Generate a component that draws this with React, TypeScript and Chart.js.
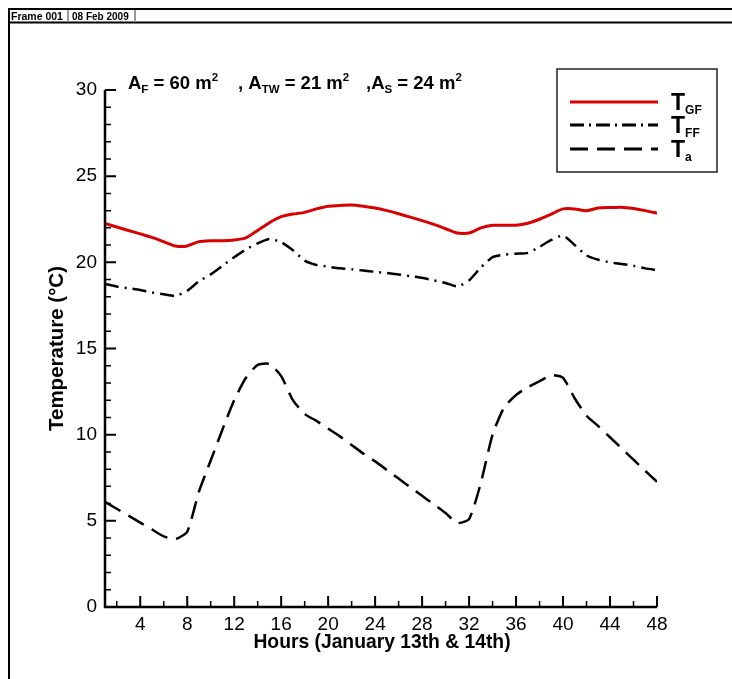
import React, { useEffect, useRef } from 'react';
import { Chart, registerables } from 'chart.js';

Chart.register(...registerables);

// ---- data ----
const hours = [1, 2, 3, 4, 5, 6, 7, 8, 9, 10, 11, 12, 13, 14, 15, 16, 17, 18, 19, 20, 21, 22, 23, 24,
  25, 26, 27, 28, 29, 30, 31, 32, 33, 34, 35, 36, 37, 38, 39, 40, 41, 42, 43, 44, 45, 46, 47, 48];

const tGF = [22.25, 22.05, 21.85, 21.65, 21.45, 21.2, 20.95, 20.95, 21.2, 21.25, 21.25, 21.3, 21.42, 21.85,
  22.3, 22.65, 22.8, 22.9, 23.1, 23.25, 23.3, 23.32, 23.25, 23.15, 23.0, 22.82, 22.62, 22.42, 22.2, 21.95,
  21.7, 21.7, 22.0, 22.15, 22.15, 22.15, 22.27, 22.5, 22.8, 23.1, 23.1, 23.0, 23.15, 23.18, 23.2, 23.12, 23.0, 22.85];

const tFF = [18.75, 18.6, 18.5, 18.4, 18.25, 18.15, 18.05, 18.35, 18.9, 19.3, 19.8, 20.3, 20.75, 21.1,
  21.35, 21.17, 20.7, 20.1, 19.85, 19.75, 19.65, 19.6, 19.52, 19.45, 19.38, 19.3, 19.2, 19.1, 18.95, 18.8,
  18.6, 18.95, 19.7, 20.3, 20.45, 20.5, 20.55, 20.9, 21.3, 21.55, 21.0, 20.4, 20.15, 20.0, 19.9, 19.8, 19.65, 19.55];

const tA = [6.1, 5.7, 5.3, 4.9, 4.5, 4.1, 3.94, 4.37, 6.7, 8.5, 10.3, 12.0, 13.3, 14.05, 14.1, 13.4, 12.0,
  11.2, 10.8, 10.35, 9.9, 9.4, 8.9, 8.45, 7.95, 7.45, 6.95, 6.45, 5.95, 5.45, 4.87, 5.1, 7.2, 10.0, 11.6,
  12.3, 12.75, 13.1, 13.45, 13.3, 12.1, 11.1, 10.5, 9.85, 9.2, 8.55, 7.9, 7.27];

const xTicks = [4, 8, 12, 16, 20, 24, 28, 32, 36, 40, 44, 48];
const xMinorTicks = [2, 6, 10, 14, 18, 22, 26, 30, 34, 38, 42, 46];
const yTicks = [0, 5, 10, 15, 20, 25, 30];
const yMinorTicks = [1, 2, 3, 4, 6, 7, 8, 9, 11, 12, 13, 14, 16, 17, 18, 19, 21, 22, 23, 24, 26, 27, 28, 29];

const seriesNames = [['T', 'GF'], ['T', 'FF'], ['T', 'a']];
const xTitle = 'Hours (January 13th & 14th)';
const yTitle = 'Temperature (°C)';
const frameLabel = 'Frame 001';
const dateLabel = '08 Feb 2009';

const FONT = '"Liberation Sans", Arial, Helvetica, sans-serif';
const RED = '#d80000';

type Part = { t: string; s: number; dy?: number };

function drawRich(ctx: CanvasRenderingContext2D, x: number, y: number, parts: Part[]) {
  let cx = x;
  for (const p of parts) {
    ctx.font = `bold ${p.s}px ${FONT}`;
    ctx.fillText(p.t, cx, y + (p.dy || 0));
    cx += ctx.measureText(p.t).width;
  }
}

const decorPlugin = {
  id: 'decor',
  afterDraw(chart: any) {
    const ctx: CanvasRenderingContext2D = chart.ctx;
    const xs = chart.scales.x;
    const ys = chart.scales.y;
    const { left, right, top, bottom } = chart.chartArea;
    ctx.save();
    ctx.fillStyle = '#000';
    ctx.strokeStyle = '#000';
    ctx.setLineDash([]);

    // page frame & header
    ctx.lineWidth = 2;
    ctx.beginPath();
    ctx.moveTo(8, 9); ctx.lineTo(732, 9);
    ctx.moveTo(8, 22.5); ctx.lineTo(732, 22.5);
    ctx.moveTo(9, 8); ctx.lineTo(9, 679);
    ctx.stroke();
    ctx.strokeStyle = '#999';
    ctx.beginPath();
    ctx.moveTo(68, 10); ctx.lineTo(68, 22);
    ctx.moveTo(135, 10); ctx.lineTo(135, 22);
    ctx.stroke();
    ctx.strokeStyle = '#000';
    ctx.font = `bold 10.5px ${FONT}`;
    ctx.textBaseline = 'alphabetic';
    ctx.textAlign = 'left';
    ctx.fillText(frameLabel, 11, 19.5);
    ctx.font = `bold 10px ${FONT}`;
    ctx.fillText(dateLabel, 72, 19.5);

    // axis lines
    ctx.lineWidth = 2.5;
    ctx.beginPath();
    ctx.moveTo(left, top); ctx.lineTo(left, bottom + 1.2);
    ctx.moveTo(left - 1.2, bottom); ctx.lineTo(right, bottom);
    ctx.stroke();

    // inward ticks
    const tick = (vals: number[], len: number, w: number, axis: 'x' | 'y') => {
      ctx.lineWidth = w;
      ctx.beginPath();
      for (const v of vals) {
        if (axis === 'x') {
          const px = xs.getPixelForValue(v);
          ctx.moveTo(px, bottom); ctx.lineTo(px, bottom - len);
        } else {
          const py = ys.getPixelForValue(v);
          ctx.moveTo(left, py); ctx.lineTo(left + len, py);
        }
      }
      ctx.stroke();
    };
    tick(xTicks, 11, 2, 'x');
    tick(xMinorTicks, 6, 1.5, 'x');
    tick(yTicks, 11, 2, 'y');
    tick(yMinorTicks, 6, 1.5, 'y');

    // axis titles
    ctx.font = `bold 19.3px ${FONT}`;
    ctx.textAlign = 'center';
    ctx.textBaseline = 'alphabetic';
    ctx.fillText(xTitle, (left + right) / 2 + 1, 648);
    ctx.save();
    ctx.font = `bold 20.5px ${FONT}`;
    ctx.translate(63, (top + bottom) / 2);
    ctx.rotate(-Math.PI / 2);
    ctx.fillText(yTitle, 0, 0);
    ctx.restore();

    // annotation
    ctx.textAlign = 'left';
    drawRich(ctx, 128, 89, [
      { t: 'A', s: 18.5 }, { t: 'F', s: 11.5, dy: 4 }, { t: ' = 60 m', s: 18.5 }, { t: '2', s: 11.5, dy: -8 },
    ]);
    drawRich(ctx, 238, 89, [
      { t: ', A', s: 18.5 }, { t: 'TW', s: 11.5, dy: 4 }, { t: ' = 21 m', s: 18.5 }, { t: '2', s: 11.5, dy: -8 },
    ]);
    drawRich(ctx, 366, 89, [
      { t: ',A', s: 18.5 }, { t: 'S', s: 11.5, dy: 4 }, { t: ' = 24 m', s: 18.5 }, { t: '2', s: 11.5, dy: -8 },
    ]);

    // legend
    ctx.lineWidth = 1.5;
    ctx.strokeStyle = '#222';
    ctx.strokeRect(557, 69, 160, 103);
    const rows = [102, 125, 149];
    const styles: { c: string; d: number[] }[] = [
      { c: RED, d: [] }, { c: '#000', d: [14, 5, 2, 5] }, { c: '#000', d: [18, 9] },
    ];
    rows.forEach((ry, i) => {
      ctx.strokeStyle = styles[i].c;
      ctx.setLineDash(styles[i].d);
      ctx.lineWidth = 3;
      ctx.beginPath();
      ctx.moveTo(570, ry); ctx.lineTo(658, ry);
      ctx.stroke();
    });
    ctx.setLineDash([]);
    ctx.fillStyle = '#000';
    rows.forEach((ry, i) => {
      drawRich(ctx, 671, ry + 8, [{ t: seriesNames[i][0], s: 23 }, { t: seriesNames[i][1], s: 12, dy: 4 }]);
    });

    ctx.restore();
  },
};

export default function App() {
  const ref = useRef<HTMLCanvasElement | null>(null);
  useEffect(() => {
    document.body.style.margin = '0';
    document.body.style.overflow = 'hidden';
    const canvas = ref.current!;
    const chart = new Chart(canvas, {
      type: 'line',
      data: {
        datasets: [
          {
            label: 'TGF',
            data: hours.map((h, i) => ({ x: h, y: tGF[i] })),
            borderColor: RED,
            borderWidth: 3,
            pointRadius: 0,
            tension: 0.2,
          },
          {
            label: 'TFF',
            data: hours.map((h, i) => ({ x: h, y: tFF[i] })),
            borderColor: '#000',
            borderWidth: 2.5,
            borderDash: [14, 6, 2, 6],
            pointRadius: 0,
            tension: 0.2,
          },
          {
            label: 'Ta',
            data: hours.map((h, i) => ({ x: h, y: tA[i] })),
            borderColor: '#000',
            borderWidth: 2.5,
            borderDash: [18, 9],
            pointRadius: 0,
            tension: 0.2,
          },
        ],
      },
      options: {
        animation: false,
        responsive: false,
        devicePixelRatio: 1,
        layout: { padding: { left: 10, right: 75, top: 90, bottom: 10 } },
        plugins: { legend: { display: false }, tooltip: { enabled: false } },
        scales: {
          x: {
            type: 'linear',
            min: 1,
            max: 48,
            grid: { display: false, drawTicks: false },
            border: { display: false },
            afterBuildTicks: (s: any) => { s.ticks = xTicks.map((v) => ({ value: v })); },
            afterFit: (s: any) => { s.height = 62; },
            ticks: { padding: 6, color: '#000', font: { family: FONT, size: 19 }, maxRotation: 0, autoSkip: false },
          },
          y: {
            type: 'linear',
            min: 0,
            max: 30,
            grid: { display: false, drawTicks: false },
            border: { display: false },
            afterBuildTicks: (s: any) => { s.ticks = yTicks.map((v) => ({ value: v })); },
            afterFit: (s: any) => { s.width = 95; },
            ticks: { padding: 8, color: '#000', font: { family: FONT, size: 19 } },
          },
        },
      },
      plugins: [decorPlugin],
    });
    return () => chart.destroy();
  }, []);
  return <canvas ref={ref} width={732} height={679} style={{ display: 'block' }} />;
}
